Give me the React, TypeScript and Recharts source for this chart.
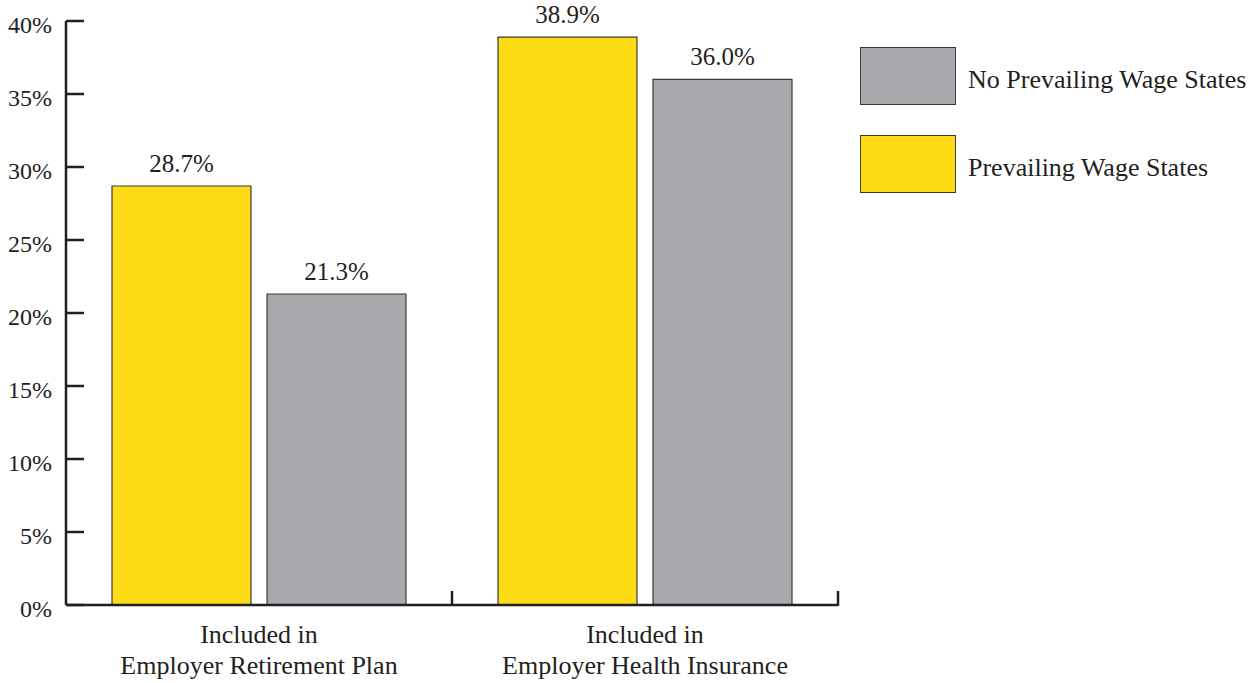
import { Bar, BarChart, LabelList, XAxis, YAxis } from "recharts";

const categories = [
  ["Included in", "Employer Retirement Plan"],
  ["Included in", "Employer Health Insurance"],
];
const prevailingWage = [28.7, 38.9];
const noPrevailingWage = [21.3, 36.0];
const yTicks = [0, 5, 10, 15, 20, 25, 30, 35, 40];

const data = categories.map((lines, i) => ({
  name: lines.join(" "),
  lines,
  prevailing: prevailingWage[i],
  none: noPrevailingWage[i],
}));

const INK = "#231f20";
const YELLOW = "#fddc16";
const GRAY = "#a7a9ac";
const FONT = "'Liberation Serif', 'DejaVu Serif', serif";

// y ticks point inward, labels sit to the left
const YTick = (props: any) => {
  const { x, y, payload } = props;
  return (
    <g>
      <line x1={x + 14} x2={x + 32} y1={y} y2={y} stroke={INK} strokeWidth={2.5} />
      <text x={x} y={y} dy={12} textAnchor="end" fill={INK} fontSize={24} fontFamily={FONT}>
        {`${payload.value}%`}
      </text>
    </g>
  );
};

// two-line category label plus an upward tick at the right edge of each band
const XTick = (props: any) => {
  const { x, y, payload, index } = props;
  const half = payload.offset ?? 193;
  const lines = data[index]?.lines ?? [payload.value];
  const axisY = y - 2;
  return (
    <g>
      <line x1={x + half} x2={x + half} y1={axisY - 14} y2={axisY + 1} stroke={INK} strokeWidth={2.5} />
      <text x={x} y={axisY} textAnchor="middle" fill={INK} fontSize={26} fontFamily={FONT}>
        {lines.map((l: string, i: number) => (
          <tspan key={i} x={x} dy={i === 0 ? 38 : 31}>
            {l}
          </tspan>
        ))}
      </text>
    </g>
  );
};

const legendItems = [
  { label: "No Prevailing Wage States", color: GRAY },
  { label: "Prevailing Wage States", color: YELLOW },
];

const valueLabel = (v: any) => `${Number(v).toFixed(1)}%`;
const labelStyle = { fontFamily: FONT, fontSize: 25, fill: INK };

export default function App() {
  return (
    <div style={{ position: "absolute", left: 0, top: 0, width: 1253, height: 683, background: "#fff" }}>
      <BarChart
        width={1253}
        height={683}
        data={data}
        margin={{ top: 21, right: 415, bottom: 0, left: 0 }}
        barCategoryGap={46}
        barGap={16}
      >
        <YAxis
          width={66}
          domain={[0, 40]}
          ticks={yTicks}
          interval={0}
          tickLine={false}
          tickSize={0}
          tickMargin={14}
          axisLine={{ stroke: INK, strokeWidth: 2.5 }}
          tick={<YTick />}
        />
        <XAxis
          dataKey="name"
          height={78}
          tickLine={false}
          tickSize={0}
          axisLine={{ stroke: INK, strokeWidth: 2.5 }}
          tick={<XTick />}
          interval={0}
        />
        <Bar dataKey="prevailing" fill={YELLOW} stroke="#3a3a3a" strokeWidth={1.2} isAnimationActive={false}>
          <LabelList dataKey="prevailing" position="top" offset={14} formatter={valueLabel} style={labelStyle} />
        </Bar>
        <Bar dataKey="none" fill={GRAY} stroke="#3a3a3a" strokeWidth={1.2} isAnimationActive={false}>
          <LabelList dataKey="none" position="top" offset={14} formatter={valueLabel} style={labelStyle} />
        </Bar>
      </BarChart>
      <div style={{ position: "absolute", left: 860, top: 47, fontFamily: FONT, color: INK, fontSize: 26 }}>
        {legendItems.map((it) => (
          <div key={it.label} style={{ display: "flex", alignItems: "center", height: 58, marginBottom: 30 }}>
            <div
              style={{
                width: 94,
                height: 56,
                background: it.color,
                border: "1.5px solid #3a3a3a",
                marginRight: 12,
                flexShrink: 0,
              }}
            />
            <span style={{ whiteSpace: "nowrap", paddingTop: 8 }}>{it.label}</span>
          </div>
        ))}
      </div>
    </div>
  );
}
